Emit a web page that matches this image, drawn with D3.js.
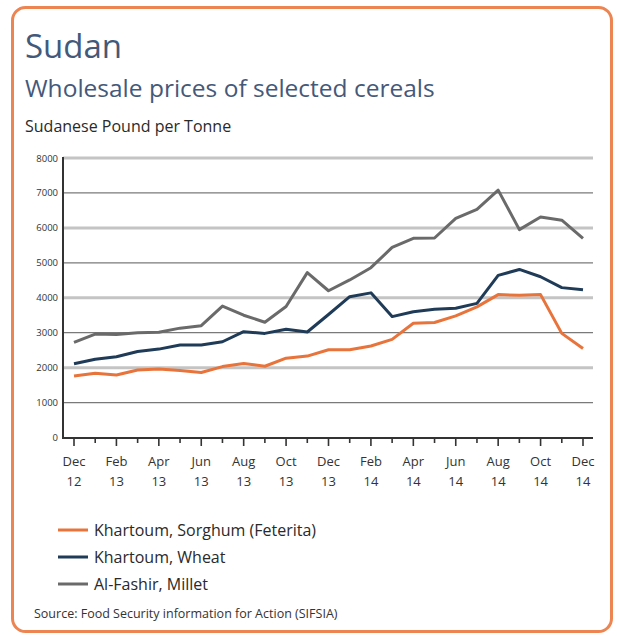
<!DOCTYPE html>
<html><head><meta charset="utf-8">
<script src="https://cdn.jsdelivr.net/npm/d3@7"></script>
<style>
body{margin:0;background:#fff;}
svg{display:block;font-family:"Open Sans","Noto Sans",sans-serif;}
</style></head>
<body>
<svg id="chart" width="617" height="636"></svg>
<script>
const months = ["Dec 12","Jan 13","Feb 13","Mar 13","Apr 13","May 13","Jun 13","Jul 13","Aug 13","Sep 13","Oct 13","Nov 13","Dec 13","Jan 14","Feb 14","Mar 14","Apr 14","May 14","Jun 14","Jul 14","Aug 14","Sep 14","Oct 14","Nov 14","Dec 14"];
const sorghum = [1760,1840,1790,1930,1960,1920,1860,2030,2120,2040,2270,2330,2510,2510,2620,2810,3270,3290,3480,3740,4090,4070,4090,2980,2550];
const wheat   = [2110,2240,2310,2460,2530,2650,2650,2740,3030,2980,3100,3020,3520,4030,4140,3460,3600,3670,3700,3840,4640,4810,4600,4290,4230];
const millet  = [2720,2960,2950,3000,3010,3130,3200,3760,3500,3300,3750,4720,4200,4510,4860,5440,5700,5710,6270,6530,7080,5950,6310,6220,5700];
const seriesNames = ["Khartoum, Sorghum (Feterita)","Khartoum, Wheat","Al-Fashir, Millet"];
const seriesColors = ["#e8743b","#1f3b57","#6a6a6a"];
const yTicks = [0,1000,2000,3000,4000,5000,6000,7000,8000];
const xTickLabels = [["Dec","12"],["Feb","13"],["Apr","13"],["Jun","13"],["Aug","13"],["Oct","13"],["Dec","13"],["Feb","14"],["Apr","14"],["Jun","14"],["Aug","14"],["Oct","14"],["Dec","14"]];

const svg = d3.select("#chart");
// frame
svg.append("rect").attr("x",12.5).attr("y",7.5).attr("width",599).attr("height",624)
  .attr("rx",13).attr("fill","#fff").attr("stroke","#ec8552").attr("stroke-width",3);

svg.append("text").attr("x",25).attr("y",58).attr("font-size",33).attr("fill","#44597a").text("Sudan");
svg.append("text").attr("x",25).attr("y",97).attr("font-size",24.5).attr("fill","#44597a").text("Wholesale prices of selected cereals");
svg.append("text").attr("x",25).attr("y",132).attr("font-size",16).attr("fill","#2a2a2a").text("Sudanese Pound per Tonne");

const x = d3.scaleLinear().domain([0, months.length-1]).range([74,583]);
const y = d3.scaleLinear().domain([0,8000]).range([437.5,158]);
const left = 63, right = 593;

// gridlines
const g = svg.append("g");
g.selectAll("line.grid").data(yTicks.filter(d=>d>0)).join("line")
  .attr("x1",left).attr("x2",right).attr("y1",d=>y(d)).attr("y2",d=>y(d))
  .attr("stroke",d=>(d/1000)%2===0?"#c4c4c4":"#7a7a7a")
  .attr("stroke-width",d=>(d/1000)%2===0?3:1.3);

// y axis
const yAxis = d3.axisLeft(y).tickValues(yTicks).tickSize(0).tickPadding(5).tickFormat(d3.format("d"));
const ya = svg.append("g").attr("transform",`translate(${left},0)`).call(yAxis);
ya.select(".domain").remove();
ya.selectAll("text").attr("font-size",9.5).attr("fill","#333").attr("font-family","'Open Sans',sans-serif");
svg.append("line").attr("x1",left).attr("x2",left).attr("y1",157).attr("y2",438.5).attr("stroke","#333").attr("stroke-width",2);
svg.append("line").attr("x1",left-1).attr("x2",right).attr("y1",438).attr("y2",438).attr("stroke","#333").attr("stroke-width",2.2);

// x ticks
const xa = svg.append("g");
xa.selectAll("line").data(d3.range(months.length)).join("line")
  .attr("x1",d=>x(d)).attr("x2",d=>x(d)).attr("y1",438).attr("y2",d=>d%2===0?446:443)
  .attr("stroke","#333").attr("stroke-width",1.6);
const xl = xa.selectAll("text.xl").data(xTickLabels).join("text").attr("class","xl")
  .attr("text-anchor","middle").attr("font-size",13).attr("fill","#333");
xl.append("tspan").attr("x",(d,i)=>x(i*2)).attr("y",466).text(d=>d[0]);
xl.append("tspan").attr("x",(d,i)=>x(i*2)).attr("y",486).text(d=>d[1]);

// lines
const line = d3.line().x((d,i)=>x(i)).y(d=>y(d));
const data = [millet, wheat, sorghum];
const cols = [seriesColors[2], seriesColors[1], seriesColors[0]];
svg.append("g").selectAll("path").data(data).join("path")
  .attr("d",line).attr("fill","none").attr("stroke",(d,i)=>cols[i])
  .attr("stroke-width",3).attr("stroke-linejoin","round");

// legend
const lg = svg.append("g");
seriesNames.forEach((n,i)=>{
  const yy = 530 + i*27;
  lg.append("line").attr("x1",58).attr("x2",88).attr("y1",yy).attr("y2",yy).attr("stroke",seriesColors[i]).attr("stroke-width",3);
  lg.append("text").attr("x",94).attr("y",yy+6).attr("font-size",16).attr("fill","#2a2a2a").text(n);
});
svg.append("text").attr("x",34).attr("y",618).attr("font-size",12.5).attr("fill","#333").text("Source: Food Security information for Action (SIFSIA)");
</script>
</body></html>
